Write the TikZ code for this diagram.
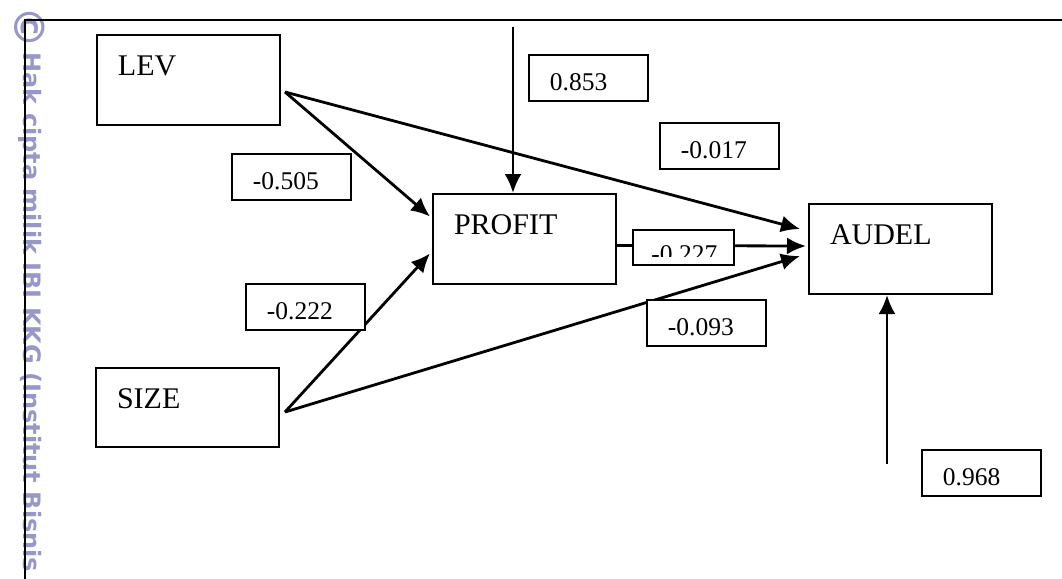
\documentclass[tikz,border=0pt]{standalone}
\usepackage{fontspec}
\setmainfont{Liberation Serif}
\newfontfamily\wmfont{DejaVu Sans}
\usepackage{tikz}
\usetikzlibrary{arrows.meta}
\usetikzlibrary{calc}
\usetikzlibrary{positioning}
\definecolor{wmblue}{RGB}{152,152,200}
\tikzstyle{var} = [draw, line width=1pt, rectangle, anchor=north west,
    align=left, inner xsep=10.5pt, inner ysep=0pt, text width=70.5pt,
    text height=20pt, text depth=25pt, font=\fontsize{15}{18}\selectfont]
\tikzstyle{coef} = [draw, fill=white, line width=0.9pt, rectangle, anchor=north west,
    align=left, inner xsep=10.5pt, inner ysep=0pt, text width=38.5pt,
    text height=18pt, text depth=5pt, font=\fontsize{12.75}{15}\selectfont]
\tikzstyle{coefnum} = [inner sep=0pt, font=\fontsize{12.75}{15}\selectfont]
\tikzstyle{link} = [draw, line width=1.4pt, ->]

\begin{document}
\begin{tikzpicture}[x=0.5pt, y=-0.5pt, >={Latex[length=9.5pt,width=8.5pt]}]
    \useasboundingbox (0,0) rectangle (1062,579);
    % watermark
    \node [rotate=-90, anchor=base west, inner sep=0pt, text=wmblue,
        font=\wmfont\bfseries\fontsize{12}{12}\selectfont] (wmark) at (24,6)
        {{\fontsize{21}{21}\selectfont\raisebox{-4.5pt}{©}}\,Hak cipta milik IBI KKG (Institut Bisnis};
    \draw [line width=0.75pt] (1062,20) -- (25,20) -- (25,579);

    % variables
    \node [var] (lev) at (96,34) {LEV};
    \node [var] (profit) at (432,193) {PROFIT};
    \node [var] (audel) at (808,203) {AUDEL};
    \node [var, text depth=19.5pt] (size) at (95,367) {SIZE};
    \coordinate (e1) at (513,27);
    \coordinate (e2) at (887,464);

    % paths
    \draw [link] ([xshift=2pt,yshift=-6pt]lev.east) -- ([xshift=-1pt,yshift=11.25pt]profit.west);
    \draw [link] ([xshift=2pt,yshift=-6pt]lev.east) -- ([xshift=-4pt,yshift=10pt]audel.west);
    \draw [link] ([yshift=-3.25pt]profit.east) -- ([xshift=-1pt,yshift=1.5pt]audel.west);
    \draw [link] ([xshift=2.5pt,yshift=-2.25pt]size.east) -- ([xshift=-1pt,yshift=-7.25pt]profit.west);
    \draw [link] ([xshift=2.5pt,yshift=-2.25pt]size.east) -- ([xshift=-4pt,yshift=-3.5pt]audel.west);
    \draw [link] (e1) -- (e1 |- profit.north);
    \draw [link] (e2) -- (e2 |- audel.south);

    % coefficients
    \node [coef] (c505) at (231,153) {-0.505};
    \node [coef] (c853) at (528,54) {0.853};
    \node [coef] (c017) at (659,122) {-0.017};
    \node [coef] (c222) at (245,283) {-0.222};
    \node [coef] (c093) at (646,299) {-0.093};
    \node [coef] (c968) at (921,449) {0.968};
    \node [coef, text width=29.5pt, text height=16pt, text depth=1.5pt] (c227) at (632,229) {};
    \begin{scope}
        \clip (c227.north west) rectangle ([yshift=4.5pt]c227.south east);
        \node [coefnum, anchor=base west] (t227) at ([xshift=9.5pt,yshift=-16.5pt]c227.north west) {-0.227};
    \end{scope}
\end{tikzpicture}
\end{document}
